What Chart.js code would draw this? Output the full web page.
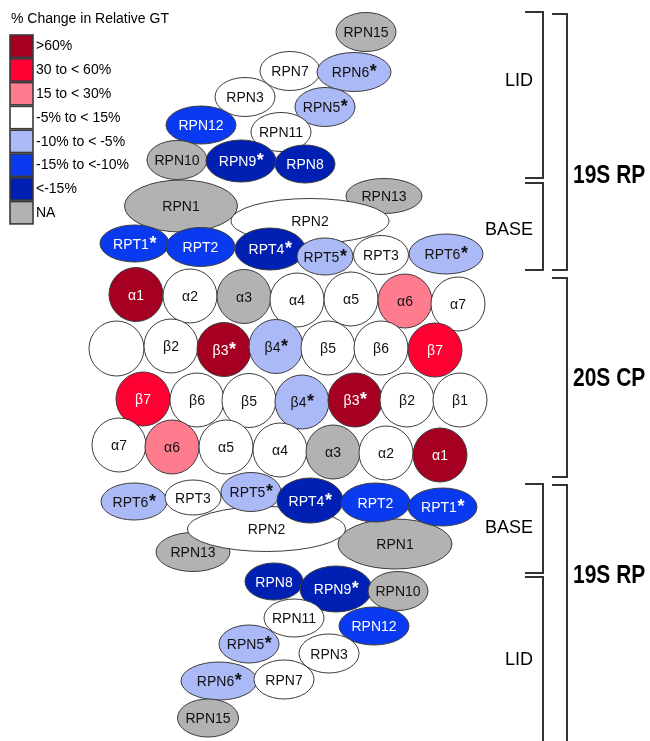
<!DOCTYPE html>
<html><head><meta charset="utf-8">
<script src="https://cdn.jsdelivr.net/npm/chart.js@4.4.1/dist/chart.umd.min.js"></script>
<style>html,body{margin:0;padding:0;background:#fff}#wrap{width:650px;height:741px;position:relative}</style>
</head><body><div id="wrap"><canvas id="c"></canvas></div>
<script>
// ---- Legend (colour classes) ----
const legendTitle = "% Change in Relative GT";
const legendLabels = [">60%", "30 to < 60%", "15 to < 30%", "-5% to < 15%", "-10% to < -5%", "-15% to <-10%", "<-15%", "NA"];
const legendColors = ["#a50021", "#ff0033", "#ff7b8e", "#ffffff", "#abbaf7", "#0a3af0", "#0020b4", "#b2b2b2"];
const darkClasses = [0, 1, 5, 6];

// ---- Subunits (drawing order) ----
const subunits = [
  "RPN15","RPN7","RPN6","RPN3","RPN5","RPN12","RPN11","RPN10","RPN9","RPN8",
  "RPN1","RPN13","RPN2","RPT1","RPT2","RPT4","RPT5","RPT3","RPT6",
  "α1","α2","α3","α4","α5","α6","α7",
  "","β2","β3","β4","β5","β6","β7",
  "β7","β6","β5","β4","β3","β2","β1",
  "α7","α6","α5","α4","α3","α2","α1",
  "RPN13","RPN1","RPN2","RPT6","RPT3","RPT5","RPT4","RPT2","RPT1",
  "RPN8","RPN9","RPN10","RPN11","RPN12","RPN5","RPN3","RPN6","RPN7","RPN15"
];
const subX = [
  366,290,354,245,325,201,281,177,241,305,
  181,384,310,134.5,200.5,270,325,381,446,
  136,190,244,297,351,405,458,
  116.5,171,224,276,328,381,435,
  143,197,249,302,355,407,460,
  119,172,226,280,333,386,440,
  193,395,266.5,134,193,251,310,375.5,442.5,
  274,336,398,294,374,249,329,219,284,208
];
const subY = [
  32,71,72,97,107,125,132,160,161,164,
  206,196,221,243.5,247,249,256.5,255,254,
  294.5,296,296.5,300,299,301,304,
  348.5,346,349.5,346.5,348,348,350,
  399,400,400.5,402,400,400,400,
  445,447,447,450,452,453,455,
  552,544,529,501.5,497.5,492,500.5,502.5,507,
  581.5,589,591,618,626,644,653.5,681,679.5,718
];
const subW = [
  30,30,37,30,30,35,30,30,35,30,
  56.5,38,79,34.5,34.5,35,28,27.5,37,
  27,27,27,27,27,27,27,
  27.5,27,27,27,27,27,27,
  27,27,27,27,27,27,27,
  27,27,27,27,27,27,27,
  37,57,79,33,28,30,33,34.5,34.5,
  29,36,30,30,35,30,30,38,30,30.5
];
const subH = [
  19.5,19.5,19.5,19.5,19.5,19,19.5,19.5,21,19,
  26,17.5,22.5,18.5,19.5,21,18.5,19.5,20,
  27,27,27,27,27,27,27,
  27.5,27,27,27,27,27,27,
  27,27,27,27,27,27,27,
  27,27,27,27,27,27,27,
  19.5,25,22.5,18.5,17.5,19.5,22.5,19.5,19,
  18.5,23,19.5,19,19,19,19.5,19,19.5,19
];
const subClass = [
  7,3,4,3,4,5,3,7,6,6,
  7,7,3,5,5,6,4,3,4,
  0,3,7,3,3,2,3,
  3,3,0,4,3,3,1,
  1,3,3,4,0,3,3,
  3,2,3,3,7,3,0,
  7,7,3,4,3,4,6,5,5,
  6,6,7,3,5,4,3,4,3,7
];
const subStar = [
  0,0,1,0,1,0,0,0,1,0,
  0,0,0,1,0,1,1,0,1,
  0,0,0,0,0,0,0,
  0,0,1,1,0,0,0,
  0,0,0,1,1,0,0,
  0,0,0,0,0,0,0,
  0,0,0,1,0,1,1,0,1,
  0,1,0,0,0,1,0,1,0,0
];

// ---- Structural brackets ----
const groupLabels = ["LID", "BASE", "19S RP", "20S CP", "BASE", "19S RP", "LID"];
const groupTop    = [12, 183, 14, 278, 484, 485, 577];
const groupBottom = [178, 270, 270, 477, 573, 750, 750];
const groupOuter  = [0, 0, 1, 1, 0, 1, 0];
const groupLabelY = [81, 230, 176, 378.5, 528, 576, 660];

const FONT = '"Liberation Sans", Arial, sans-serif';

const diagramPlugin = {
  id: 'diagram',
  afterDatasetsDraw(chart) {
    const ctx = chart.ctx;
    const xs = chart.scales.x, ys = chart.scales.y;
    const px = v => xs.getPixelForValue(v), py = v => ys.getPixelForValue(v);

    // Legend
    ctx.save();
    ctx.fillStyle = '#000';
    ctx.font = '14px ' + FONT;
    ctx.textBaseline = 'alphabetic';
    ctx.textAlign = 'left';
    ctx.fillText(legendTitle, px(11), py(22.5));
    legendLabels.forEach((lab, i) => {
      const top = 35 + i * 23.8;
      ctx.fillStyle = legendColors[i];
      ctx.fillRect(px(10), py(top), px(33) - px(10), py(top + 22.3) - py(top));
      ctx.lineWidth = 1.6;
      ctx.strokeStyle = '#3a3a3a';
      ctx.strokeRect(px(10), py(top), px(33) - px(10), py(top + 22.3) - py(top));
      ctx.fillStyle = '#000';
      ctx.textBaseline = 'middle';
      ctx.fillText(lab, px(36), py(top + 11.5));
    });
    ctx.restore();

    // Subunits
    const meta = chart.getDatasetMeta(0);
    meta.data.forEach((pt, i) => {
      const rxp = Math.abs(px(subX[i] + subW[i]) - pt.x);
      const ryp = Math.abs(py(subY[i] + subH[i]) - pt.y);
      ctx.save();
      ctx.beginPath();
      ctx.ellipse(pt.x, pt.y, rxp, ryp, 0, 0, Math.PI * 2);
      ctx.fillStyle = legendColors[subClass[i]];
      ctx.fill();
      ctx.lineWidth = 1;
      ctx.strokeStyle = '#3c3c3c';
      ctx.stroke();
      const txtColor = darkClasses.includes(subClass[i]) ? '#ffffff' : '#111111';
      ctx.fillStyle = txtColor;
      ctx.textBaseline = 'alphabetic';
      ctx.textAlign = 'left';
      ctx.font = '14px ' + FONT;
      const w = ctx.measureText(subunits[i]).width;
      let sw = 0;
      if (subStar[i]) {
        ctx.font = 'bold 18px ' + FONT;
        sw = ctx.measureText('*').width;
      }
      const x0 = pt.x - (w + sw) / 2;
      const base = pt.y + 5;
      ctx.font = '14px ' + FONT;
      ctx.fillText(subunits[i], x0, base);
      if (subStar[i]) {
        ctx.font = 'bold 18px ' + FONT;
        ctx.fillText('*', x0 + w + 0.5, base);
      }
      ctx.restore();
    });

    // Brackets
    ctx.save();
    ctx.strokeStyle = '#333333';
    ctx.lineWidth = 2;
    groupLabels.forEach((lab, i) => {
      const xr = groupOuter[i] ? 567 : 543;
      const xl = groupOuter[i] ? 552 : 525;
      ctx.beginPath();
      ctx.moveTo(px(xl), py(groupTop[i]));
      ctx.lineTo(px(xr), py(groupTop[i]));
      ctx.lineTo(px(xr), py(groupBottom[i]));
      ctx.lineTo(px(xl), py(groupBottom[i]));
      ctx.stroke();
      ctx.fillStyle = '#000';
      if (groupOuter[i]) {
        ctx.save();
        ctx.font = 'bold 21px ' + FONT;
        ctx.textAlign = 'left';
        ctx.textBaseline = 'middle';
        ctx.translate(px(573), py(groupLabelY[i]));
        ctx.scale(1, 1.22);
        ctx.fillText(lab, 0, 0);
        ctx.restore();
      } else {
        ctx.font = '18px ' + FONT;
        ctx.textAlign = 'right';
        ctx.textBaseline = 'middle';
        ctx.fillText(lab, px(533), py(groupLabelY[i]));
      }
    });
    ctx.restore();
  }
};

new Chart(document.getElementById('c'), {
  type: 'scatter',
  data: {
    datasets: [{
      data: subunits.map((n, i) => ({ x: subX[i], y: subY[i] })),
      pointRadius: 0,
      pointHoverRadius: 0
    }]
  },
  options: {
    responsive: true,
    maintainAspectRatio: false,
    animation: false,
    devicePixelRatio: 1,
    layout: { padding: 0 },
    events: [],
    scales: {
      x: { type: 'linear', min: 0, max: 650, display: false },
      y: { type: 'linear', min: 0, max: 741, reverse: true, display: false }
    },
    plugins: { legend: { display: false }, tooltip: { enabled: false } }
  },
  plugins: [diagramPlugin]
});
</script>
</body></html>
